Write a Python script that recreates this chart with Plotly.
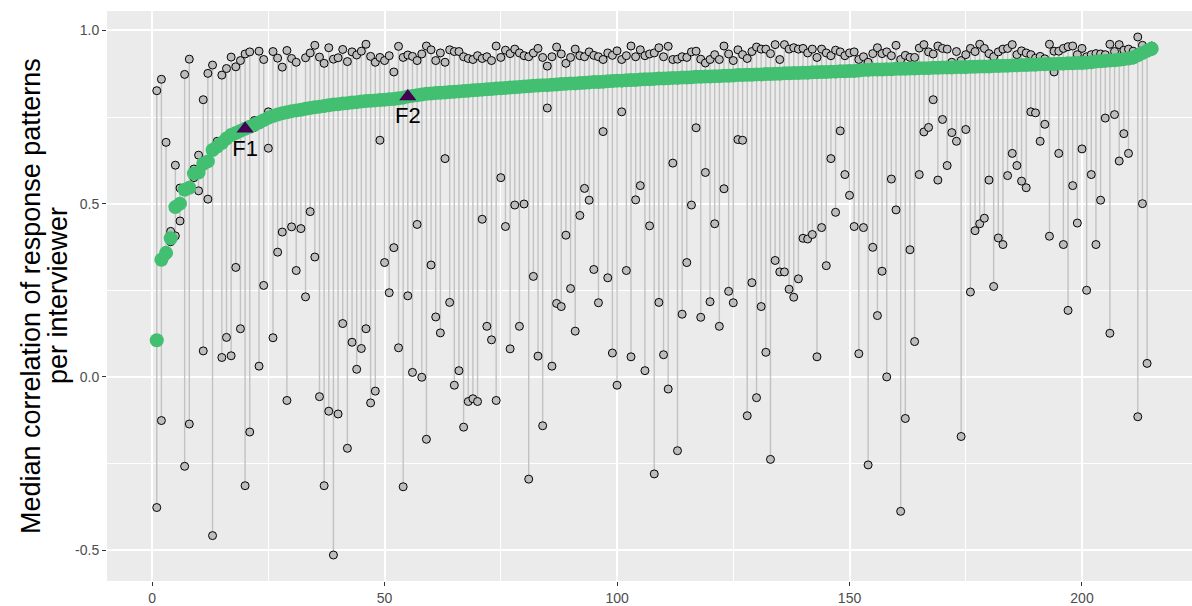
import plotly.graph_objects as go

# Interviewer rank (sorted by median correlation)
interviewer = list(range(1, 216))

# Median correlation of response patterns per interviewer
median_r = [
    0.106, 0.338, 0.358, 0.400, 0.490, 0.500, 0.540, 0.546, 0.587, 0.590,
    0.615, 0.622, 0.655, 0.665, 0.675, 0.688, 0.698, 0.704, 0.710, 0.716,
    0.722, 0.728, 0.734, 0.741, 0.748, 0.753, 0.757, 0.761, 0.764, 0.767,
    0.769, 0.771, 0.774, 0.776, 0.778, 0.780, 0.782, 0.784, 0.786, 0.787,
    0.789, 0.790, 0.792, 0.793, 0.795, 0.796, 0.797, 0.798, 0.799, 0.800,
    0.801, 0.802, 0.804, 0.806, 0.809, 0.811, 0.813, 0.815, 0.817, 0.818,
    0.819, 0.820, 0.821, 0.822, 0.823, 0.824, 0.825, 0.826, 0.827, 0.828,
    0.829, 0.830, 0.831, 0.832, 0.833, 0.834, 0.835, 0.836, 0.837, 0.838,
    0.839, 0.840, 0.841, 0.842, 0.842, 0.843, 0.844, 0.845, 0.846, 0.847,
    0.847, 0.848, 0.849, 0.850, 0.851, 0.851, 0.852, 0.853, 0.854, 0.855,
    0.855, 0.856, 0.857, 0.857, 0.858, 0.859, 0.859, 0.860, 0.861, 0.861,
    0.862, 0.863, 0.863, 0.864, 0.864, 0.865, 0.866, 0.866, 0.867, 0.867,
    0.868, 0.868, 0.869, 0.869, 0.870, 0.871, 0.871, 0.872, 0.872, 0.873,
    0.873, 0.874, 0.874, 0.875, 0.875, 0.876, 0.876, 0.877, 0.877, 0.878,
    0.878, 0.879, 0.879, 0.880, 0.880, 0.881, 0.881, 0.882, 0.882, 0.883,
    0.883, 0.884, 0.886, 0.886, 0.887, 0.887, 0.887, 0.888, 0.888, 0.889,
    0.889, 0.889, 0.890, 0.890, 0.891, 0.891, 0.891, 0.892, 0.892, 0.893,
    0.893, 0.893, 0.894, 0.894, 0.894, 0.895, 0.895, 0.896, 0.896, 0.896,
    0.897, 0.897, 0.898, 0.898, 0.899, 0.899, 0.900, 0.900, 0.901, 0.901,
    0.902, 0.902, 0.903, 0.903, 0.904, 0.904, 0.905, 0.905, 0.906, 0.906,
    0.907, 0.908, 0.910, 0.911, 0.912, 0.913, 0.914, 0.915, 0.917, 0.919,
    0.922, 0.928, 0.935, 0.941, 0.947,
]

# Highest correlation per interviewer
max_r = [
    0.826, 0.859, 0.677, 0.420, 0.611, 0.545, 0.873, 0.917, 0.600, 0.640,
    0.800, 0.876, 0.900, 0.680, 0.871, 0.890, 0.923, 0.895, 0.913, 0.932,
    0.938, 0.740, 0.940, 0.916, 0.765, 0.939, 0.920, 0.894, 0.942, 0.919,
    0.908, 0.774, 0.921, 0.935, 0.957, 0.923, 0.905, 0.950, 0.917, 0.921,
    0.945, 0.910, 0.938, 0.929, 0.940, 0.960, 0.925, 0.908, 0.922, 0.913,
    0.927, 0.880, 0.954, 0.922, 0.929, 0.925, 0.913, 0.932, 0.955, 0.944,
    0.913, 0.935, 0.908, 0.944, 0.939, 0.939, 0.924, 0.919, 0.916, 0.927,
    0.919, 0.924, 0.913, 0.955, 0.922, 0.943, 0.933, 0.946, 0.935, 0.927,
    0.924, 0.935, 0.948, 0.922, 0.897, 0.924, 0.952, 0.932, 0.905, 0.922,
    0.946, 0.927, 0.924, 0.938, 0.928, 0.924, 0.916, 0.935, 0.928, 0.941,
    0.916, 0.927, 0.955, 0.924, 0.944, 0.927, 0.932, 0.935, 0.950, 0.924,
    0.954, 0.916, 0.917, 0.924, 0.922, 0.938, 0.940, 0.917, 0.906, 0.916,
    0.930, 0.916, 0.955, 0.932, 0.913, 0.944, 0.930, 0.919, 0.939, 0.952,
    0.946, 0.946, 0.933, 0.959, 0.916, 0.959, 0.946, 0.950, 0.946, 0.948,
    0.935, 0.946, 0.922, 0.946, 0.935, 0.927, 0.943, 0.938, 0.927, 0.935,
    0.938, 0.916, 0.924, 0.908, 0.933, 0.950, 0.933, 0.938, 0.927, 0.957,
    0.916, 0.928, 0.922, 0.922, 0.949, 0.959, 0.938, 0.932, 0.955, 0.948,
    0.946, 0.908, 0.939, 0.913, 0.930, 0.948, 0.939, 0.960, 0.948, 0.933,
    0.924, 0.938, 0.946, 0.948, 0.959, 0.930, 0.941, 0.935, 0.930, 0.920,
    0.925, 0.918, 0.960, 0.940, 0.940, 0.948, 0.953, 0.955, 0.930, 0.948,
    0.924, 0.930, 0.933, 0.932, 0.930, 0.960, 0.939, 0.959, 0.943, 0.946,
    0.940, 0.981, 0.957, 0.945, 0.955,
]

# Lowest correlation per interviewer
min_r = [
    -0.377, -0.126, 0.350, 0.390, 0.407, 0.450, -0.258, -0.136, 0.575, 0.537,
    0.075, 0.513, -0.458, 0.660, 0.056, 0.114, 0.061, 0.316, 0.139, -0.314,
    -0.159, 0.720, 0.031, 0.264, 0.660, 0.113, 0.360, 0.418, -0.068, 0.433,
    0.307, 0.428, 0.231, 0.477, 0.346, -0.057, -0.314, -0.099, -0.514, -0.107,
    0.154, -0.206, 0.100, 0.022, 0.082, 0.139, -0.075, -0.041, 0.683, 0.330,
    0.243, 0.373, 0.084, -0.317, 0.234, 0.013, 0.440, -0.001, -0.180, 0.323,
    0.173, 0.127, 0.630, 0.215, -0.024, 0.018, -0.145, -0.071, -0.063, -0.071,
    0.455, 0.146, 0.107, -0.068, 0.575, 0.434, 0.081, 0.496, 0.146, 0.499,
    -0.295, 0.290, 0.060, -0.141, 0.776, 0.031, 0.212, 0.203, 0.409, 0.255,
    0.132, 0.466, 0.544, 0.510, 0.310, 0.214, 0.708, 0.286, 0.069, -0.024,
    0.765, 0.307, 0.058, 0.511, 0.552, 0.018, 0.436, -0.280, 0.215, 0.064,
    -0.035, 0.617, -0.213, 0.181, 0.330, 0.496, 0.719, 0.172, 0.590, 0.217,
    0.442, 0.146, 0.543, 0.247, 0.214, 0.685, 0.683, -0.112, 0.272, -0.060,
    0.203, 0.071, -0.238, 0.336, 0.303, 0.303, 0.253, 0.230, 0.283, 0.400,
    0.398, 0.411, 0.058, 0.431, 0.321, 0.630, 0.475, 0.710, 0.584, 0.524,
    0.434, 0.067, 0.431, -0.254, 0.374, 0.177, 0.305, 0.000, 0.571, 0.482,
    -0.388, -0.120, 0.367, 0.102, 0.584, 0.707, 0.720, 0.800, 0.568, 0.743,
    0.610, 0.705, 0.680, -0.172, 0.714, 0.245, 0.422, 0.442, 0.458, 0.568,
    0.261, 0.401, 0.382, 0.581, 0.645, 0.610, 0.565, 0.546, 0.765, 0.762,
    0.680, 0.729, 0.406, 0.880, 0.645, 0.382, 0.192, 0.552, 0.444, 0.658,
    0.250, 0.584, 0.382, 0.510, 0.747, 0.126, 0.757, 0.623, 0.702, 0.645,
    0.915, -0.115, 0.500, 0.039, 0.940,
]

# Flagged interviewers
flag_labels = ["F1", "F2"]
flag_ranks = [20, 55]

# Axis title, one entry per line
y_title_lines = ["Median correlation of response patterns", "per interviewer"]

GREEN = "#43BF71"
PURPLE = "#440154"
GREY_LINE = "#C2C2C2"
GREY_PT = "#BDBDBD"
FONT = "Liberation Sans, Arial, sans-serif"

fig = go.Figure()

# Range segments (min to max) for each interviewer
seg_x, seg_y = [], []
for i, lo, hi in zip(interviewer, min_r, max_r):
    seg_x += [i, i, None]
    seg_y += [lo, hi, None]
fig.add_trace(go.Scatter(
    x=seg_x, y=seg_y, mode="lines",
    line=dict(color=GREY_LINE, width=1.4),
    hoverinfo="skip", showlegend=False,
))

# Min and max points
for vals in (min_r, max_r):
    fig.add_trace(go.Scatter(
        x=interviewer, y=vals, mode="markers",
        marker=dict(size=8, color=GREY_PT, line=dict(color="black", width=1)),
        showlegend=False,
    ))

# Median points
fig.add_trace(go.Scatter(
    x=interviewer, y=median_r, mode="markers",
    marker=dict(size=14, color=GREEN, line=dict(width=0)),
    showlegend=False,
))

# Flagged interviewers
flag_y = [median_r[r - 1] for r in flag_ranks]
fig.add_trace(go.Scatter(
    x=flag_ranks, y=flag_y, mode="markers+text",
    marker=dict(symbol="triangle-up", size=15, color=PURPLE, line=dict(width=0)),
    text=flag_labels, textposition="bottom center",
    textfont=dict(size=22, color="black", family=FONT),
    showlegend=False,
))

tick_font = dict(size=14, color="#4D4D4D", family=FONT)

# Rotated y-axis title lines, placed left of the tick labels
title_x_px = [31, 58]
title_annots = [
    dict(
        text=line, xref="paper", yref="paper",
        x=(px - 107) / 1085, y=0.5, xanchor="center", yanchor="middle",
        textangle=-90, showarrow=False,
        font=dict(size=27, color="black", family=FONT),
    )
    for line, px in zip(y_title_lines, title_x_px)
]

fig.update_layout(
    width=1192, height=606,
    margin=dict(l=107, r=0, t=11, b=20),
    paper_bgcolor="white",
    plot_bgcolor="#EBEBEB",
    font=dict(family=FONT),
    xaxis=dict(
        range=[-9.7, 223.66],
        tickvals=[0, 50, 100, 150, 200],
        ticktext=["0", "50", "100", "150", "200"],
        showgrid=True, gridcolor="white", gridwidth=1.8,
        minor=dict(tickvals=[25, 75, 125, 175, 225], showgrid=True,
                   gridcolor="white", gridwidth=0.9, ticks=""),
        zeroline=False, showline=False,
        ticks="outside", ticklen=4, tickcolor="#333333", tickwidth=1,
        tickfont=tick_font,
    ),
    yaxis=dict(
        range=[-0.589, 1.056],
        tickvals=[-0.5, 0.0, 0.5, 1.0],
        ticktext=["-0.5", "0.0", "0.5", "1.0"],
        showgrid=True, gridcolor="white", gridwidth=1.8,
        minor=dict(tickvals=[-0.25, 0.25, 0.75], showgrid=True,
                   gridcolor="white", gridwidth=0.9, ticks=""),
        zeroline=False, showline=False,
        ticks="outside", ticklen=4, tickcolor="#333333", tickwidth=1,
        tickfont=tick_font,
    ),
    annotations=title_annots,
)

fig.write_html("out.html")
